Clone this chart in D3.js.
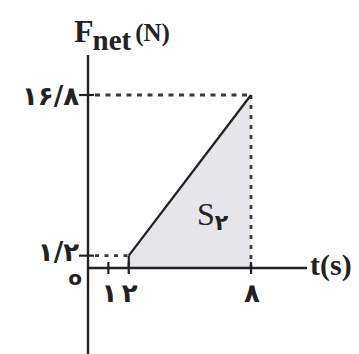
<!DOCTYPE html>
<html>
<head>
<meta charset="utf-8">
<script src="https://cdn.jsdelivr.net/npm/d3@7"></script>
<style>
  html, body { margin: 0; padding: 0; background: #fff; }
  svg { display: block; }
</style>
</head>
<body>
<svg id="chart" width="359" height="354"></svg>
<script>
// Net force vs time: constant start, then linear rise
const times = [2, 8];            // t (s)
const forces = [1.2, 16.8];      // F_net (N)
const xTicks = [1, 2, 8];
const xTickLabels = ["۱", "۲", "۸"];
const yTicks = [1.2, 16.8];
const yTickLabels = ["۱/۲", "۱۶/۸"];

const svg = d3.select("#chart");
const x = d3.scaleLinear().domain([0, 8]).range([88, 251]);
const y = d3.scaleLinear().domain([0, 16.8]).range([268, 95]);

const ink = "#222";
const serif = "'Liberation Serif', 'DejaVu Serif', serif";
const digitFont = "'DejaVu Sans', 'Noto Sans', sans-serif";

// shaded area S2 under the line
const areaPts = [[times[0], 0], [times[0], forces[0]], [times[1], forces[1]], [times[1], 0]];
svg.append("path")
  .attr("d", d3.line().x(d => x(d[0])).y(d => y(d[1]))(areaPts) + "Z")
  .attr("fill", "#e5e5ea");

// dotted guide lines
function guide(x1, y1, x2, y2, dash) {
  svg.append("line").attr("x1", x1).attr("y1", y1).attr("x2", x2).attr("y2", y2)
    .attr("stroke", "#3a3a3a").attr("stroke-width", 2.8).attr("stroke-dasharray", dash);
}
guide(x(0) + 7, y(forces[1]), x(times[1]), y(forces[1]), "5,5.5");
guide(x(times[1]), y(forces[1]), x(times[1]), y(0), "4,6");
guide(x(0) + 7, y(forces[0]), x(times[0]), y(forces[0]), "4,5.5");

// rising line
svg.append("line")
  .attr("x1", x(times[0])).attr("y1", y(forces[0]))
  .attr("x2", x(times[1])).attr("y2", y(forces[1]))
  .attr("stroke", ink).attr("stroke-width", 2.3);
svg.append("line")
  .attr("x1", x(times[0])).attr("y1", y(forces[0]))
  .attr("x2", x(times[0])).attr("y2", y(0))
  .attr("stroke", ink).attr("stroke-width", 2.2);

// axes
svg.append("line").attr("x1", x(0)).attr("y1", 55).attr("x2", x(0)).attr("y2", 354)
  .attr("stroke", ink).attr("stroke-width", 2.4);
svg.append("line").attr("x1", x(0)).attr("y1", y(0)).attr("x2", 307).attr("y2", y(0))
  .attr("stroke", ink).attr("stroke-width", 2.6);

// tick marks
xTicks.forEach(t => {
  svg.append("line").attr("x1", x(t)).attr("x2", x(t))
    .attr("y1", y(0) - 6).attr("y2", y(0) + 6)
    .attr("stroke", ink).attr("stroke-width", 2.2);
});
yTicks.forEach(v => {
  svg.append("line").attr("x1", x(0) - 9).attr("x2", x(0) + 6)
    .attr("y1", y(v)).attr("y2", y(v))
    .attr("stroke", ink).attr("stroke-width", 2.2);
});

// tick labels
xTicks.forEach((t, i) => {
  svg.append("text").attr("x", x(t) + 1).attr("y", 302)
    .attr("text-anchor", "middle")
    .style("font-family", digitFont).style("font-weight", "bold").style("font-size", "26px")
    .attr("fill", ink).text(xTickLabels[i]);
});
yTicks.forEach((v, i) => {
  svg.append("text").attr("x", x(0) - 9).attr("y", y(v) + (v < 5 ? 5 : 10))
    .attr("text-anchor", "end")
    .style("font-family", digitFont).style("font-weight", "bold").style("font-size", "26px")
    .attr("fill", ink).text(yTickLabels[i]);
});

// origin
svg.append("text").attr("x", 75).attr("y", 285).attr("text-anchor", "middle")
  .style("font-family", digitFont).style("font-weight", "bold").style("font-size", "20px")
  .attr("fill", ink).text("o");

// axis titles
const yTitle = svg.append("text").attr("x", 74).attr("y", 42)
  .style("font-family", serif).style("font-weight", "bold").attr("fill", ink);
yTitle.append("tspan").style("font-size", "32px").text("F");
yTitle.append("tspan").style("font-size", "29px").attr("dy", 8).attr("dx", -1).text("net");
yTitle.append("tspan").style("font-size", "25px").attr("dy", -9).attr("dx", 4).text("(N)");

svg.append("text").attr("x", 310).attr("y", 275)
  .style("font-family", serif).style("font-weight", "bold").style("font-size", "30px")
  .attr("fill", ink).text("t(s)");

// area label
const sLabel = svg.append("text").attr("x", 197).attr("y", 225)
  .style("font-family", serif).attr("fill", ink);
sLabel.append("tspan").style("font-size", "32px").text("S");
sLabel.append("tspan").style("font-family", digitFont).style("font-weight", "bold")
  .style("font-size", "22px").attr("dy", 5).text("۲");
</script>
</body>
</html>
